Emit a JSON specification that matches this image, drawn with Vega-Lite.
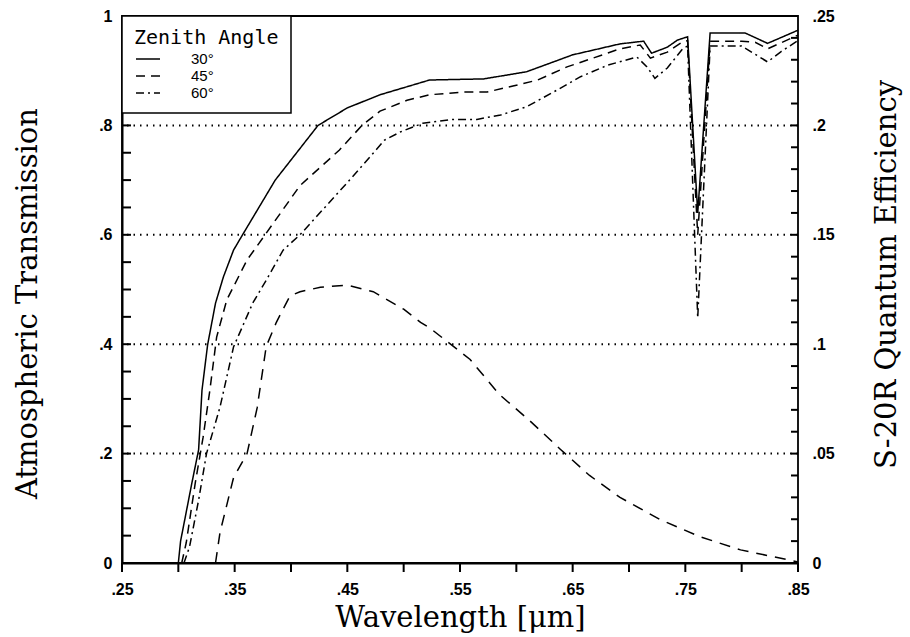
{
  "$schema": "https://vega.github.io/schema/vega-lite/v6.json",
  "width": 676,
  "height": 547,
  "autosize": {"type": "none"},
  "padding": {"left": 122, "top": 16, "right": 112, "bottom": 74},
  "background": "white",
  "config": {
    "view": {"stroke": "black", "strokeWidth": 1.8},
    "axis": {
      "labelColor": "black", "titleColor": "black",
      "labelFont": "Liberation Sans", "labelFontWeight": "bold", "labelFontSize": 16,
      "titleFont": "DejaVu Serif", "titleFontWeight": "normal", "titleFontSize": 29,
      "ticks": false, "tickSize": 0, "grid": false, "domain": false
    },
    "legend": {
      "orient": "top-left", "offset": 0, "padding": 12, "fillColor": "white", "strokeColor": "black",
      "strokeWidth": 1.5, "cornerRadius": 0,
      "titleFont": "DejaVu Sans Mono", "titleFontSize": 20, "titleFontWeight": "normal", "titleColor": "black", "titlePadding": 2,
      "labelFont": "Liberation Sans", "labelFontSize": 15, "labelColor": "black",
      "symbolType": "M-1.5,0H1.5", "symbolSize": 256, "symbolStrokeWidth": 1.5, "symbolStrokeColor": "black",
      "symbolOffset": 5, "labelOffset": 34, "rowPadding": 0
    }
  },
  "datasets": {
    "grid": [{"t": 0.2}, {"t": 0.4}, {"t": 0.6}, {"t": 0.8}],
    "xticks": [
      {"wl": 0.25}, {"wl": 0.3}, {"wl": 0.35}, {"wl": 0.4}, {"wl": 0.45}, {"wl": 0.5}, {"wl": 0.55},
      {"wl": 0.6}, {"wl": 0.65}, {"wl": 0.7}, {"wl": 0.75}, {"wl": 0.8}, {"wl": 0.85}
    ],
    "yticks": [
      {"t": 0.05}, {"t": 0.1}, {"t": 0.15}, {"t": 0.2}, {"t": 0.25}, {"t": 0.3}, {"t": 0.35},
      {"t": 0.4}, {"t": 0.45}, {"t": 0.5}, {"t": 0.55}, {"t": 0.6}, {"t": 0.65}, {"t": 0.7},
      {"t": 0.75}, {"t": 0.8}, {"t": 0.85}, {"t": 0.9}, {"t": 0.95}
    ],
    "rticks": [
      {"qe": 0.01}, {"qe": 0.02}, {"qe": 0.03}, {"qe": 0.04}, {"qe": 0.05}, {"qe": 0.06}, {"qe": 0.07},
      {"qe": 0.08}, {"qe": 0.09}, {"qe": 0.1}, {"qe": 0.11}, {"qe": 0.12}, {"qe": 0.13}, {"qe": 0.14},
      {"qe": 0.15}, {"qe": 0.16}, {"qe": 0.17}, {"qe": 0.18}, {"qe": 0.19}, {"qe": 0.2}, {"qe": 0.21},
      {"qe": 0.22}, {"qe": 0.23}, {"qe": 0.24}
    ],
    "trans": [
      {"wl": 0.300, "t": 0.0, "za": "30°"},
      {"wl": 0.302, "t": 0.04, "za": "30°"},
      {"wl": 0.312, "t": 0.146, "za": "30°"},
      {"wl": 0.318, "t": 0.207, "za": "30°"},
      {"wl": 0.321, "t": 0.316, "za": "30°"},
      {"wl": 0.326, "t": 0.399, "za": "30°"},
      {"wl": 0.333, "t": 0.475, "za": "30°"},
      {"wl": 0.340, "t": 0.523, "za": "30°"},
      {"wl": 0.349, "t": 0.572, "za": "30°"},
      {"wl": 0.357, "t": 0.60, "za": "30°"},
      {"wl": 0.386, "t": 0.70, "za": "30°"},
      {"wl": 0.424, "t": 0.80, "za": "30°"},
      {"wl": 0.450, "t": 0.832, "za": "30°"},
      {"wl": 0.479, "t": 0.856, "za": "30°"},
      {"wl": 0.523, "t": 0.883, "za": "30°"},
      {"wl": 0.571, "t": 0.885, "za": "30°"},
      {"wl": 0.609, "t": 0.898, "za": "30°"},
      {"wl": 0.650, "t": 0.929, "za": "30°"},
      {"wl": 0.692, "t": 0.949, "za": "30°"},
      {"wl": 0.713, "t": 0.954, "za": "30°"},
      {"wl": 0.720, "t": 0.932, "za": "30°"},
      {"wl": 0.734, "t": 0.943, "za": "30°"},
      {"wl": 0.743, "t": 0.956, "za": "30°"},
      {"wl": 0.752, "t": 0.962, "za": "30°"},
      {"wl": 0.761, "t": 0.64, "za": "30°"},
      {"wl": 0.772, "t": 0.969, "za": "30°"},
      {"wl": 0.803, "t": 0.969, "za": "30°"},
      {"wl": 0.823, "t": 0.95, "za": "30°"},
      {"wl": 0.850, "t": 0.974, "za": "30°"},
      {"wl": 0.303, "t": 0.0, "za": "45°"},
      {"wl": 0.307, "t": 0.037, "za": "45°"},
      {"wl": 0.315, "t": 0.146, "za": "45°"},
      {"wl": 0.322, "t": 0.23, "za": "45°"},
      {"wl": 0.328, "t": 0.316, "za": "45°"},
      {"wl": 0.334, "t": 0.413, "za": "45°"},
      {"wl": 0.343, "t": 0.481, "za": "45°"},
      {"wl": 0.361, "t": 0.554, "za": "45°"},
      {"wl": 0.377, "t": 0.60, "za": "45°"},
      {"wl": 0.408, "t": 0.69, "za": "45°"},
      {"wl": 0.443, "t": 0.755, "za": "45°"},
      {"wl": 0.463, "t": 0.80, "za": "45°"},
      {"wl": 0.479, "t": 0.826, "za": "45°"},
      {"wl": 0.503, "t": 0.846, "za": "45°"},
      {"wl": 0.523, "t": 0.856, "za": "45°"},
      {"wl": 0.553, "t": 0.861, "za": "45°"},
      {"wl": 0.574, "t": 0.861, "za": "45°"},
      {"wl": 0.597, "t": 0.872, "za": "45°"},
      {"wl": 0.619, "t": 0.883, "za": "45°"},
      {"wl": 0.645, "t": 0.907, "za": "45°"},
      {"wl": 0.668, "t": 0.923, "za": "45°"},
      {"wl": 0.692, "t": 0.94, "za": "45°"},
      {"wl": 0.710, "t": 0.947, "za": "45°"},
      {"wl": 0.719, "t": 0.923, "za": "45°"},
      {"wl": 0.734, "t": 0.934, "za": "45°"},
      {"wl": 0.747, "t": 0.952, "za": "45°"},
      {"wl": 0.752, "t": 0.955, "za": "45°"},
      {"wl": 0.761, "t": 0.60, "za": "45°"},
      {"wl": 0.772, "t": 0.954, "za": "45°"},
      {"wl": 0.800, "t": 0.954, "za": "45°"},
      {"wl": 0.812, "t": 0.952, "za": "45°"},
      {"wl": 0.823, "t": 0.94, "za": "45°"},
      {"wl": 0.850, "t": 0.965, "za": "45°"},
      {"wl": 0.305, "t": 0.0, "za": "60°"},
      {"wl": 0.310, "t": 0.03, "za": "60°"},
      {"wl": 0.318, "t": 0.115, "za": "60°"},
      {"wl": 0.325, "t": 0.2, "za": "60°"},
      {"wl": 0.337, "t": 0.285, "za": "60°"},
      {"wl": 0.349, "t": 0.395, "za": "60°"},
      {"wl": 0.366, "t": 0.475, "za": "60°"},
      {"wl": 0.378, "t": 0.517, "za": "60°"},
      {"wl": 0.393, "t": 0.572, "za": "60°"},
      {"wl": 0.408, "t": 0.60, "za": "60°"},
      {"wl": 0.430, "t": 0.65, "za": "60°"},
      {"wl": 0.452, "t": 0.70, "za": "60°"},
      {"wl": 0.483, "t": 0.773, "za": "60°"},
      {"wl": 0.497, "t": 0.788, "za": "60°"},
      {"wl": 0.517, "t": 0.804, "za": "60°"},
      {"wl": 0.544, "t": 0.811, "za": "60°"},
      {"wl": 0.565, "t": 0.811, "za": "60°"},
      {"wl": 0.586, "t": 0.819, "za": "60°"},
      {"wl": 0.609, "t": 0.834, "za": "60°"},
      {"wl": 0.633, "t": 0.861, "za": "60°"},
      {"wl": 0.657, "t": 0.889, "za": "60°"},
      {"wl": 0.681, "t": 0.91, "za": "60°"},
      {"wl": 0.707, "t": 0.925, "za": "60°"},
      {"wl": 0.716, "t": 0.907, "za": "60°"},
      {"wl": 0.723, "t": 0.886, "za": "60°"},
      {"wl": 0.734, "t": 0.905, "za": "60°"},
      {"wl": 0.748, "t": 0.941, "za": "60°"},
      {"wl": 0.752, "t": 0.945, "za": "60°"},
      {"wl": 0.761, "t": 0.448, "za": "60°"},
      {"wl": 0.772, "t": 0.945, "za": "60°"},
      {"wl": 0.800, "t": 0.945, "za": "60°"},
      {"wl": 0.812, "t": 0.93, "za": "60°"},
      {"wl": 0.823, "t": 0.916, "za": "60°"},
      {"wl": 0.835, "t": 0.935, "za": "60°"},
      {"wl": 0.850, "t": 0.955, "za": "60°"}
    ],
    "qe": [
      {"wl": 0.333, "qe": 0.0},
      {"wl": 0.337, "qe": 0.014},
      {"wl": 0.349, "qe": 0.039},
      {"wl": 0.361, "qe": 0.050},
      {"wl": 0.370, "qe": 0.071},
      {"wl": 0.378, "qe": 0.099},
      {"wl": 0.387, "qe": 0.110},
      {"wl": 0.399, "qe": 0.122},
      {"wl": 0.408, "qe": 0.124},
      {"wl": 0.426, "qe": 0.126},
      {"wl": 0.450, "qe": 0.127},
      {"wl": 0.473, "qe": 0.124},
      {"wl": 0.500, "qe": 0.116},
      {"wl": 0.515, "qe": 0.110},
      {"wl": 0.523, "qe": 0.1075},
      {"wl": 0.559, "qe": 0.093},
      {"wl": 0.585, "qe": 0.077},
      {"wl": 0.612, "qe": 0.065},
      {"wl": 0.639, "qe": 0.052},
      {"wl": 0.665, "qe": 0.040},
      {"wl": 0.692, "qe": 0.030},
      {"wl": 0.727, "qe": 0.020},
      {"wl": 0.763, "qe": 0.012},
      {"wl": 0.799, "qe": 0.006},
      {"wl": 0.850, "qe": 0.0005}
    ]
  },
  "layer": [
    {
      "layer": [
        {
          "data": {"name": "grid"},
          "mark": {"type": "rule", "color": "black", "strokeDash": [1.5, 5], "strokeWidth": 2},
          "encoding": {
            "y": {"field": "t", "type": "quantitative", "scale": {"domain": [0, 1], "nice": false}}
          }
        },
        {
          "data": {"name": "xticks"},
          "mark": {"type": "rule", "color": "black", "strokeWidth": 2, "y2Offset": 9},
          "encoding": {
            "x": {"field": "wl", "type": "quantitative", "scale": {"domain": [0.25, 0.85], "nice": false, "zero": false}},
            "y": {"datum": 0, "type": "quantitative"},
            "y2": {"datum": 0}
          }
        },
        {
          "data": {"name": "yticks"},
          "mark": {"type": "rule", "color": "black", "strokeWidth": 2, "x2Offset": 9},
          "encoding": {
            "y": {"field": "t", "type": "quantitative", "scale": {"domain": [0, 1], "nice": false}},
            "x": {"datum": 0.25, "type": "quantitative"},
            "x2": {"datum": 0.25}
          }
        },
        {
          "data": {"name": "trans"},
          "mark": {"type": "line", "color": "black", "strokeWidth": 1.5},
          "encoding": {
            "x": {
              "field": "wl", "type": "quantitative",
              "scale": {"domain": [0.25, 0.85], "nice": false, "zero": false},
              "axis": {
                "title": "Wavelength [μm]", "orient": "bottom",
                "values": [0.25, 0.35, 0.45, 0.55, 0.65, 0.75, 0.85],
                "labelExpr": "slice(format(datum.value, '.2f'), 1)",
                "ticks": false, "tickSize": 0, "domain": true, "domainColor": "black", "domainWidth": 2,
                "labelFlush": false, "labelOverlap": false,
                "labelPadding": 18, "titlePadding": 6
              }
            },
            "y": {
              "field": "t", "type": "quantitative",
              "scale": {"domain": [0, 1], "nice": false},
              "axis": {
                "title": "Atmospheric Transmission", "orient": "left",
                "values": [0, 0.2, 0.4, 0.6, 0.8, 1],
                "labelExpr": "datum.value == 0 ? '0' : (datum.value == 1 ? '1' : slice(format(datum.value, '.1f'), 1))",
                "ticks": false, "tickSize": 0, "domain": true, "domainColor": "black", "domainWidth": 2,
                "labelFlush": false, "labelOverlap": false,
                "labelPadding": 10, "titlePadding": 56, "titleY": 287
              }
            },
            "strokeDash": {
              "field": "za", "type": "nominal",
              "scale": {"domain": ["30°", "45°", "60°"], "range": [[1, 0], [9, 6], [8, 4, 2, 4]]},
              "legend": {"title": "Zenith Angle"}
            }
          }
        }
      ]
    },
    {
      "layer": [
        {
          "data": {"name": "rticks"},
          "mark": {"type": "rule", "color": "black", "strokeWidth": 2, "x2Offset": -7},
          "encoding": {
            "y": {"field": "qe", "type": "quantitative", "scale": {"domain": [0, 0.25], "nice": false}},
            "x": {"datum": 0.85, "type": "quantitative"},
            "x2": {"datum": 0.85}
          }
        },
        {
          "data": {"name": "qe"},
          "mark": {"type": "line", "color": "black", "strokeWidth": 1.5, "strokeDash": [11, 8]},
          "encoding": {
            "x": {"field": "wl", "type": "quantitative", "scale": {"domain": [0.25, 0.85], "nice": false, "zero": false}},
            "y": {
              "field": "qe", "type": "quantitative",
              "scale": {"domain": [0, 0.25], "nice": false},
              "axis": {
                "title": "S-20R Quantum Efficiency", "orient": "right",
                "values": [0, 0.05, 0.1, 0.15, 0.2, 0.25],
                "labelExpr": "datum.value == 0 ? '0' : slice(format(datum.value, '.2~f'), 1)",
                "ticks": false, "tickSize": 0, "domain": false,
                "labelFlush": false, "labelOverlap": false,
                "labelPadding": 14, "labelAlign": "left",
                "titleAngle": 270, "titleBaseline": "top", "titlePadding": 38, "titleY": 258
              }
            }
          }
        }
      ]
    }
  ],
  "resolve": {"scale": {"y": "independent"}}
}
